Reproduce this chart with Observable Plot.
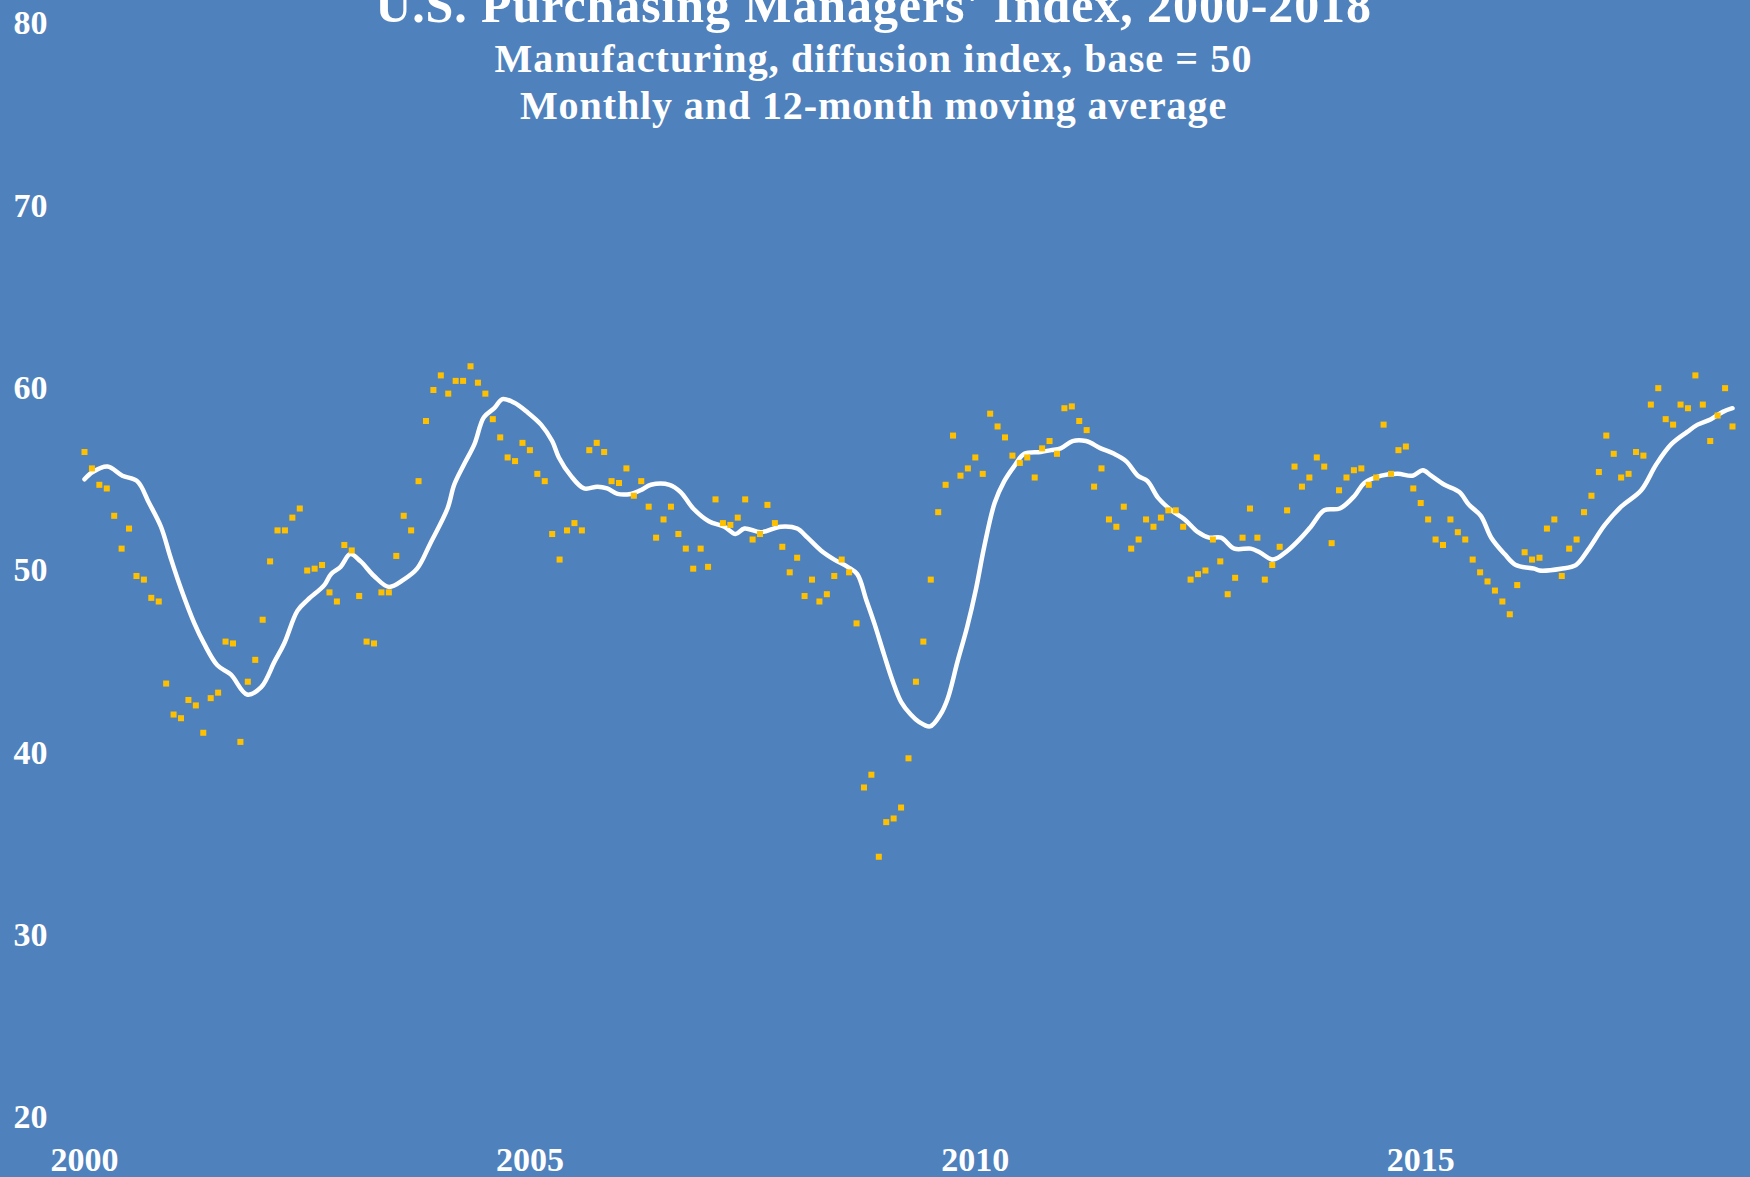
<!DOCTYPE html>
<html>
<head>
<meta charset="utf-8">
<script src="https://cdn.jsdelivr.net/npm/d3@7"></script>
<script src="https://cdn.jsdelivr.net/npm/@observablehq/plot@0.6"></script>
<style>
  html, body { margin: 0; padding: 0; background: #4F81BD; overflow: hidden; }
  #chart svg { display: block; }
</style>
</head>
<body>
<div id="chart"></div>
<script>
// ---- Text ----
const title = "U.S. Purchasing Managers' Index, 2000-2018";
const subtitle1 = "Manufacturing, diffusion index, base = 50";
const subtitle2 = "Monthly and 12-month moving average";

// ---- Tick labels ----
const yTicks = [20, 30, 40, 50, 60, 70, 80];
const xTicks = [2000, 2005, 2010, 2015];

// ---- Monthly PMI (Jan..Dec) ----
const pmi2000 = [56.5, 55.6, 54.7, 54.5, 53.0, 51.2, 52.3, 49.7, 49.5, 48.5, 48.3, 43.8];
const pmi2001 = [42.1, 41.9, 42.9, 42.6, 41.1, 43.0, 43.3, 46.1, 46.0, 40.6, 43.9, 45.1];
const pmi2002 = [47.3, 50.5, 52.2, 52.2, 52.9, 53.4, 50.0, 50.1, 50.3, 48.8, 48.3, 51.4];
const pmi2003 = [51.1, 48.6, 46.1, 46.0, 48.8, 48.8, 50.8, 53.0, 52.2, 54.9, 58.2, 59.9];
const pmi2004 = [60.7, 59.7, 60.4, 60.4, 61.2, 60.3, 59.7, 58.3, 57.3, 56.2, 56.0, 57.0];
const pmi2005 = [56.6, 55.3, 54.9, 52.0, 50.6, 52.2, 52.6, 52.2, 56.6, 57.0, 56.5, 54.9];
const pmi2006 = [54.8, 55.6, 54.1, 54.9, 53.5, 51.8, 52.8, 53.5, 52.0, 51.2, 50.1, 51.2];
const pmi2007 = [50.2, 53.9, 52.6, 52.5, 52.9, 53.9, 51.7, 52.0, 53.6, 52.6, 51.3, 49.9];
const pmi2008 = [50.7, 48.6, 49.5, 48.3, 48.7, 49.7, 50.6, 49.9, 47.1, 38.1, 38.8, 34.3];
const pmi2009 = [36.2, 36.4, 37.0, 39.7, 43.9, 46.1, 49.5, 53.2, 54.7, 57.4, 55.2, 55.6];
const pmi2010 = [56.2, 55.3, 58.6, 57.9, 57.3, 56.3, 55.9, 56.2, 55.1, 56.7, 57.1, 56.4];
const pmi2011 = [58.9, 59.0, 58.2, 57.7, 54.6, 55.6, 52.8, 52.4, 53.5, 51.2, 51.7, 52.8];
const pmi2012 = [52.4, 52.9, 53.3, 53.3, 52.4, 49.5, 49.8, 50.0, 51.7, 50.5, 48.7, 49.6];
const pmi2013 = [51.8, 53.4, 51.8, 49.5, 50.3, 51.3, 53.3, 55.7, 54.6, 55.1, 56.2, 55.7];
const pmi2014 = [51.5, 54.4, 55.1, 55.5, 55.6, 54.7, 55.1, 58.0, 55.3, 56.6, 56.8, 54.5];
const pmi2015 = [53.7, 52.8, 51.7, 51.4, 52.8, 52.1, 51.7, 50.6, 49.9, 49.4, 48.9, 48.3];
const pmi2016 = [47.6, 49.2, 51.0, 50.6, 50.7, 52.3, 52.8, 49.7, 51.2, 51.7, 53.2, 54.1];
const pmi2017 = [55.4, 57.4, 56.4, 55.1, 55.3, 56.5, 56.3, 59.1, 60.0, 58.3, 58.0, 59.1];
const pmi2018 = [58.9, 60.7, 59.1, 57.1, 58.5, 60.0, 57.9];
const pmiYears = [2000, 2001, 2002, 2003, 2004, 2005, 2006, 2007, 2008, 2009,
                  2010, 2011, 2012, 2013, 2014, 2015, 2016, 2017, 2018];
const pmiByYear = [pmi2000, pmi2001, pmi2002, pmi2003, pmi2004, pmi2005, pmi2006,
                   pmi2007, pmi2008, pmi2009, pmi2010, pmi2011, pmi2012, pmi2013,
                   pmi2014, pmi2015, pmi2016, pmi2017, pmi2018];

// ---- 12-month moving average (months after Jan 2000) ----
const maMonth = [0, 1.1, 3.1, 5.1, 7.1, 8.7, 10.3, 11.6, 13.0, 14.8, 16.1, 17.9, 19.7, 21.9, 23.8,
  25.6, 26.9, 28.7, 30.1, 32.3, 33.2, 34.5, 35.8, 37.2, 39.0, 41.0, 43.0, 44.8, 46.6, 48.9,
  49.8, 51.1, 52.5, 53.8, 55.2, 56.3, 57.9, 59.6, 61.5, 63.0, 63.9, 65.5, 67.3, 69.1, 70.4,
  71.8, 73.6, 74.9, 76.3, 78.8, 80.3, 82.0, 84.1, 86.2, 87.7, 88.9, 91.1, 93.8, 96.0, 97.4,
  99.2, 101.0, 102.8, 104.1, 105.3, 106.4, 107.7, 108.9, 110.0, 111.3, 112.4, 113.9, 115.3,
  116.3, 117.6, 118.9, 120.1, 121.2, 122.6, 123.9, 125.2, 126.6, 128.8, 130.2, 131.5, 133.1,
  134.9, 136.9, 138.7, 140.3, 141.9, 143.2, 144.6, 146.4, 148.2, 150.0, 151.5, 153.1, 154.9,
  157.1, 158.3, 160.1, 162.1, 163.9, 165.2, 167.0, 169.1, 171.1, 172.4, 174.7, 176.9, 178.9,
  180.3, 181.4, 183.2, 185.2, 186.5, 188.1, 189.5, 191.3, 192.8, 195.3, 196.0, 198.9, 200.9,
  202.5, 204.8, 207.0, 209.7, 211.7, 213.7, 215.9, 217.3, 219.1, 220.7, 222.0];
const maValue = [55.0, 55.4, 55.7, 55.2, 54.9, 53.7, 52.4, 50.7, 49.0, 47.1, 46.0, 44.8, 44.3, 43.2, 43.6,
  45.0, 46.0, 47.8, 48.4, 49.2, 49.8, 50.2, 50.9, 50.5, 49.7, 49.1, 49.5, 50.1, 51.5, 53.4,
  54.7, 55.8, 56.9, 58.4, 58.9, 59.4, 59.2, 58.7, 58.0, 57.1, 56.2, 55.2, 54.5, 54.6, 54.5,
  54.2, 54.2, 54.4, 54.7, 54.7, 54.3, 53.4, 52.7, 52.4, 52.0, 52.3, 52.1, 52.4, 52.3, 51.8,
  51.1, 50.6, 50.2, 49.8, 48.4, 47.1, 45.4, 43.9, 42.8, 42.1, 41.7, 41.45, 42.1,
  43.0, 45.0, 46.9, 49.0, 51.3, 53.7, 54.9, 55.7, 56.4, 56.5, 56.6, 56.7, 57.1,
  57.1, 56.7, 56.4, 56.0, 55.2, 54.9, 54.0, 53.3, 52.8, 52.1, 51.8, 51.8, 51.2,
  51.2, 51.0, 50.6, 51.1, 51.8, 52.4, 53.3, 53.4, 54.1, 54.8, 55.2, 55.3, 55.2,
  55.5, 55.2, 54.7, 54.3, 53.6, 53.0, 51.8, 50.9, 50.3, 50.1, 50.0, 50.1, 50.3,
  51.1, 52.5, 53.5, 54.4, 55.8, 56.9, 57.6, 58.0, 58.3, 58.7, 58.9];

// ---- Build tables for Plot ----
const monthly = pmiByYear.flatMap((vals, i) =>
  vals.map((v, j) => ({ t: pmiYears[i] + j / 12, v })));
const ma = maMonth.map((m, i) => ({ t: 2000 + m / 12, v: maValue[i] }));

const font = "'Liberation Serif', 'Times New Roman', serif";

const chart = Plot.plot({
  width: 1750,
  height: 1177,
  marginLeft: 84,
  marginRight: 18,
  marginTop: 23,
  marginBottom: 60,
  x: { domain: [2000, 2018.5], axis: null },
  y: { domain: [20, 80], axis: null },
  style: { background: "#4F81BD", color: "white", fontFamily: font },
  marks: [
    Plot.line(ma, { x: "t", y: "v", stroke: "white", strokeWidth: 4.5, curve: "catmull-rom" }),
    Plot.dot(monthly, { x: "t", y: "v", symbol: "square", r: 3.4, fill: "#FFC000", stroke: "none" }),
    Plot.text(yTicks, { y: d => d, text: d => String(d), frameAnchor: "left", textAnchor: "start",
      dx: -71, fontSize: 34, fontWeight: "bold", fill: "white" }),
    Plot.text(xTicks, { x: d => d, text: d => String(d), frameAnchor: "bottom", lineAnchor: "middle",
      dy: 43, fontSize: 34, fontWeight: "bold", fill: "white" }),
    Plot.text([title], { text: d => d, frameAnchor: "top-left", dx: 789, dy: -2, lineAnchor: "bottom",
      textAnchor: "middle", fontSize: 50, fontWeight: "bold", fill: "white" }),
    Plot.text([subtitle1], { text: d => d, frameAnchor: "top-left", dx: 789, dy: 48, lineAnchor: "bottom",
      textAnchor: "middle", fontSize: 40, fontWeight: "bold", fill: "white" }),
    Plot.text([subtitle2], { text: d => d, frameAnchor: "top-left", dx: 789, dy: 95, lineAnchor: "bottom",
      textAnchor: "middle", fontSize: 40, fontWeight: "bold", fill: "white" })
  ]
});

// Slight letter spacing on the heading lines to match the reference's wider typeface
const spacing = new Map([[title, "0.9px"], [subtitle1, "1.1px"], [subtitle2, "0.9px"]]);
chart.querySelectorAll("text").forEach(t => {
  const s = spacing.get(t.textContent);
  if (s) t.setAttribute("letter-spacing", s);
});

document.getElementById("chart").appendChild(chart);
</script>
</body>
</html>
